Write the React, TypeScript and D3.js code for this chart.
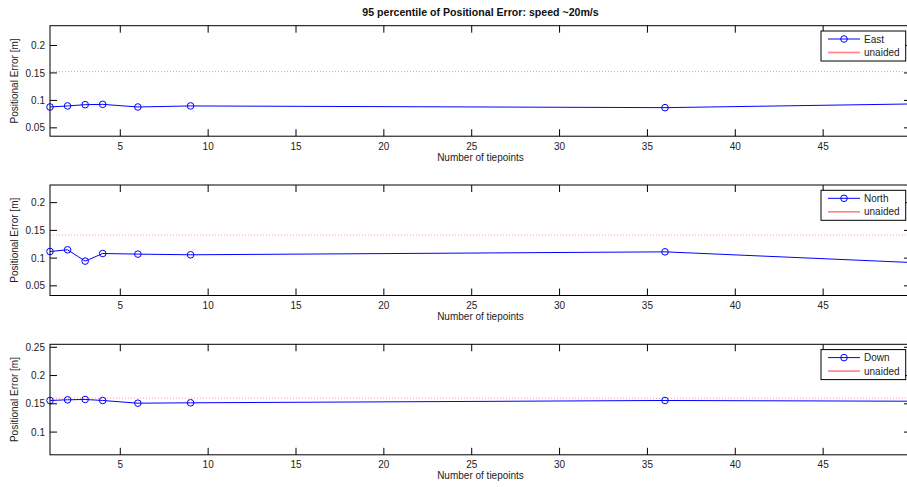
import React from "react";
import * as d3 from "d3";

const tiepoints = [1, 2, 3, 4, 6, 9, 36, 50];
const eastErr = [0.088, 0.0899, 0.0922, 0.0928, 0.088, 0.0899, 0.0868, 0.0935];
const northErr = [0.1119, 0.115, 0.0946, 0.1083, 0.1072, 0.106, 0.1113, 0.0921];
const downErr = [0.1559, 0.1571, 0.1577, 0.1559, 0.1511, 0.1518, 0.1559, 0.1546];
const unaidedErr = [0.1525, 0.1417, 0.16];
const seriesNames = ["East", "North", "Down"];
const yLimitsEast = [0.0348, 0.236];
const yLimitsNorth = [0.0326, 0.2318];
const yLimitsDown = [0.0598, 0.2553];
const yTicksEast = [0.05, 0.1, 0.15, 0.2];
const yTicksNorth = [0.05, 0.1, 0.15, 0.2];
const yTicksDown = [0.1, 0.15, 0.2, 0.25];
const xTicks = [5, 10, 15, 20, 25, 30, 35, 40, 45];
const xLimits = [1, 50];
const title = "95 percentile of Positional Error: speed ~20m/s";
const xLabel = "Number of tiepoints";
const yLabel = "Positional Error [m]";
const unaidedLabel = "unaided";

const FONT = "'Liberation Sans', Arial, Helvetica, sans-serif";

const panels = [
  { name: seriesNames[0], values: eastErr, unaided: unaidedErr[0], lim: yLimitsEast, ticks: yTicksEast },
  { name: seriesNames[1], values: northErr, unaided: unaidedErr[1], lim: yLimitsNorth, ticks: yTicksNorth },
  { name: seriesNames[2], values: downErr, unaided: unaidedErr[2], lim: yLimitsDown, ticks: yTicksDown },
];

const W = 907;
const H = 487;
const left = 50;
const right = 911;
const panelTops = [25.7, 185, 344.3];
const panelH = 110.5;
const tickLen = 7;

function Panel({ p, top }: { p: any; top: number }) {
  const x = d3.scaleLinear().domain(xLimits).range([left, right]);
  const y = d3.scaleLinear().domain(p.lim).range([top + panelH, top]);
  const line = d3
    .line<number>()
    .x((_, i) => x(tiepoints[i]))
    .y((d) => y(d));
  const bottom = top + panelH;
  const lgX = right - 5.3 - 84.7;
  const lgY = top + 5.3;
  return (
    <g>
      <rect x={left} y={top} width={right - left} height={panelH} fill="white" />
      <line
        x1={left}
        x2={right}
        y1={y(p.unaided)}
        y2={y(p.unaided)}
        stroke="#ff8080"
        strokeWidth={0.8}
        strokeDasharray="1,2"
      />
      <path d={line(p.values) || ""} fill="none" stroke="#0000ff" strokeWidth={1} />
      {p.values.map((v: number, i: number) => (
        <circle key={i} cx={x(tiepoints[i])} cy={y(v)} r={3.3} fill="none" stroke="#0000ff" strokeWidth={1} />
      ))}
      {xTicks.map((t) => (
        <g key={"x" + t}>
          <line x1={x(t)} x2={x(t)} y1={bottom} y2={bottom - tickLen} stroke="black" />
          <line x1={x(t)} x2={x(t)} y1={top} y2={top + tickLen} stroke="black" />
          <text x={x(t)} y={bottom + 13.5} fontSize={10} fontFamily={FONT} textAnchor="middle" fill="#222">
            {t}
          </text>
        </g>
      ))}
      {p.ticks.map((t: number) => (
        <g key={"y" + t}>
          <line x1={left} x2={left + tickLen} y1={y(t)} y2={y(t)} stroke="black" />
          <line x1={right} x2={right - tickLen} y1={y(t)} y2={y(t)} stroke="black" />
          <text x={left - 5} y={y(t) + 3.6} fontSize={10} fontFamily={FONT} textAnchor="end" fill="#222">
            {String(t)}
          </text>
        </g>
      ))}
      <rect x={left} y={top} width={right - left} height={panelH} fill="none" stroke="black" strokeWidth={1} />
      <text x={(left + right) / 2} y={bottom + 24.5} fontSize={10} fontFamily={FONT} textAnchor="middle" fill="#222">
        {xLabel}
      </text>
      <text
        transform={`translate(17.5,${top + panelH / 2}) rotate(-90)`}
        fontSize={10}
        fontFamily={FONT}
        textAnchor="middle"
        fill="#222"
      >
        {yLabel}
      </text>
      <rect x={lgX} y={lgY} width={84.7} height={30} fill="white" stroke="black" strokeWidth={1} />
      <line x1={lgX + 7} x2={lgX + 39} y1={lgY + 8} y2={lgY + 8} stroke="#0000ff" />
      <circle cx={lgX + 23} cy={lgY + 8} r={3.3} fill="none" stroke="#0000ff" />
      <text x={lgX + 43} y={lgY + 11.5} fontSize={10} fontFamily={FONT} fill="#222">
        {p.name}
      </text>
      <line x1={lgX + 7} x2={lgX + 39} y1={lgY + 21.5} y2={lgY + 21.5} stroke="#ff8080" strokeWidth={1.6} />
      <text x={lgX + 43} y={lgY + 25} fontSize={10} fontFamily={FONT} fill="#222">
        {unaidedLabel}
      </text>
    </g>
  );
}

export default function App() {
  return (
    <svg
      width={W}
      height={H}
      style={{ position: "absolute", left: 0, top: 0, background: "white", overflow: "hidden" }}
    >
      <rect x={0} y={0} width={W} height={H} fill="white" />
      <text
        x={(left + right) / 2}
        y={15.5}
        fontSize={10.6}
        fontWeight="bold"
        fontFamily={FONT}
        textAnchor="middle"
        fill="#111"
      >
        {title}
      </text>
      {panels.map((p, i) => (
        <Panel key={p.name} p={p} top={panelTops[i]} />
      ))}
    </svg>
  );
}
